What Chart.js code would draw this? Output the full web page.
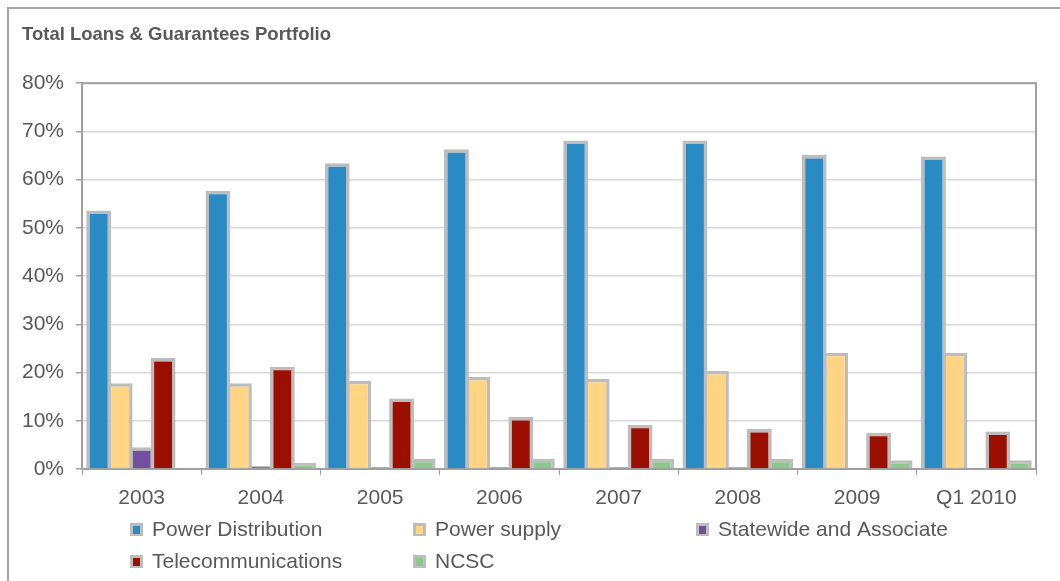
<!DOCTYPE html>
<html>
<head>
  <title>Total Loans & Guarantees Portfolio</title>
  <style>
    body {
      margin: 0;
      padding: 0;
      background: #fff;
      overflow: hidden;
    }

    #wrap {
      position: relative;
      width: 1060px;
      height: 581px;
    }

    #frame {
      position: absolute;
      left: 7px;
      top: 7px;
      width: 1100px;
      height: 700px;
      border: 2px solid #a6a6a6;
    }

    canvas {
      position: absolute;
      left: 0;
      top: 0;
    }
  </style>
</head>
<body>
  <div id="wrap">
    <div id="frame"></div>
    <canvas id="chart" width="1060" height="581"></canvas>
  </div>

  <script src="https://cdn.jsdelivr.net/npm/chart.js@4.4.0/dist/chart.umd.min.js"></script>
  <script>
    // data (percent of portfolio)
    const years = ['2003', '2004', '2005', '2006', '2007', '2008', '2009', 'Q1 2010'];
    const powerDistribution = [53.6, 57.7, 63.4, 66.3, 68.1, 68.1, 65.1, 64.8];
    const powerSupply = [17.8, 17.8, 18.3, 19.1, 18.7, 20.3, 24.1, 24.1];
    const statewide = [4.5, 0.6, 0.4, 0.4, 0.4, 0.4, 0.1, 0.1];
    const telecom = [23.0, 21.2, 14.6, 10.8, 9.2, 8.3, 7.5, 7.8];
    const ncsc = [0, 1.3, 2.1, 2.1, 2.1, 2.1, 1.8, 1.8];
    const yTicks = [0, 10, 20, 30, 40, 50, 60, 70, 80];

    const font = 'Arial, "Liberation Sans", sans-serif';
    const textColor = '#595959';
    const barBorder = '#bdbdbd';

    function makeSet(label, data, color) {
      return {
        label: label,
        data: data,
        backgroundColor: color,
        borderColor: barBorder,
        borderWidth: 3.5,
        borderSkipped: 'start'
      };
    }

    // plot area border (top + right darker lines)
    const plotBorder = {
      id: 'plotBorder',
      beforeDatasetsDraw(chart) {
        const a = chart.chartArea;
        const ctx = chart.ctx;
        ctx.save();
        ctx.strokeStyle = '#a0a0a0';
        ctx.lineWidth = 2;
        ctx.beginPath();
        ctx.moveTo(a.left, a.top);
        ctx.lineTo(a.right, a.top);
        ctx.lineTo(a.right, a.bottom);
        ctx.stroke();
        ctx.restore();
      }
    };

    // legend laid out in columns like the original
    const gridLegend = {
      id: 'gridLegend',
      afterDraw(chart) {
        const ctx = chart.ctx;
        const cols = [130, 413, 696];
        const rows = [529, 561];
        ctx.save();
        ctx.font = '21px ' + font;
        ctx.textBaseline = 'middle';
        chart.data.datasets.forEach((ds, i) => {
          const x = cols[i % 3];
          const y = rows[Math.floor(i / 3)];
          ctx.fillStyle = barBorder;
          ctx.fillRect(x, y - 6, 13, 13);
          ctx.fillStyle = ds.backgroundColor;
          ctx.fillRect(x + 3, y - 3, 7, 8);
          ctx.fillStyle = textColor;
          ctx.fillText(ds.label, x + 22, y + 1);
        });
        ctx.restore();
      }
    };

    const ctx = document.getElementById('chart').getContext('2d');
    const chart = new Chart(ctx, {
      type: 'bar',
      data: {
        labels: years,
        datasets: [
          makeSet('Power Distribution', powerDistribution, '#2a8ac4'),
          makeSet('Power supply', powerSupply, '#ffd584'),
          makeSet('Statewide and Associate', statewide, '#71519e'),
          makeSet('Telecommunications', telecom, '#9a0f00'),
          makeSet('NCSC', ncsc, '#8cc78b')
        ]
      },
      options: {
        responsive: false,
        animation: false,
        categoryPercentage: 0.9,
        barPercentage: 1.16,
        layout: {
          padding: { left: 22, right: 24, top: 0, bottom: 0 }
        },
        plugins: {
          legend: { display: false },
          tooltip: { enabled: false },
          title: {
            display: true,
            text: 'Total Loans & Guarantees Portfolio',
            align: 'start',
            color: textColor,
            font: { family: font, size: 18.5, weight: 'bold' },
            padding: { top: 24, bottom: 37 }
          }
        },
        scales: {
          x: {
            offset: true,
            grid: {
              offset: true,
              drawOnChartArea: false,
              drawTicks: true,
              tickLength: 6,
              tickColor: '#a0a0a0'
            },
            border: { color: '#a0a0a0', width: 2 },
            ticks: {
              color: textColor,
              font: { family: font, size: 21 },
              padding: 11,
              maxRotation: 0
            },
            afterFit(scale) { scale.height = 112; }
          },
          y: {
            min: 0,
            max: 80,
            afterBuildTicks(scale) {
              scale.ticks = yTicks.map(v => ({ value: v }));
            },
            grid: {
              color: '#d9d9d9',
              lineWidth: 1.5,
              tickLength: 6,
              tickColor: '#a0a0a0'
            },
            border: { color: '#a0a0a0', width: 2 },
            ticks: {
              color: textColor,
              font: { family: font, size: 21 },
              padding: 12,
              callback: v => v + '%'
            },
            afterFit(scale) { scale.width = 60; }
          }
        }
      },
      plugins: [plotBorder, gridLegend]
    });
  </script>
</body>
</html>
